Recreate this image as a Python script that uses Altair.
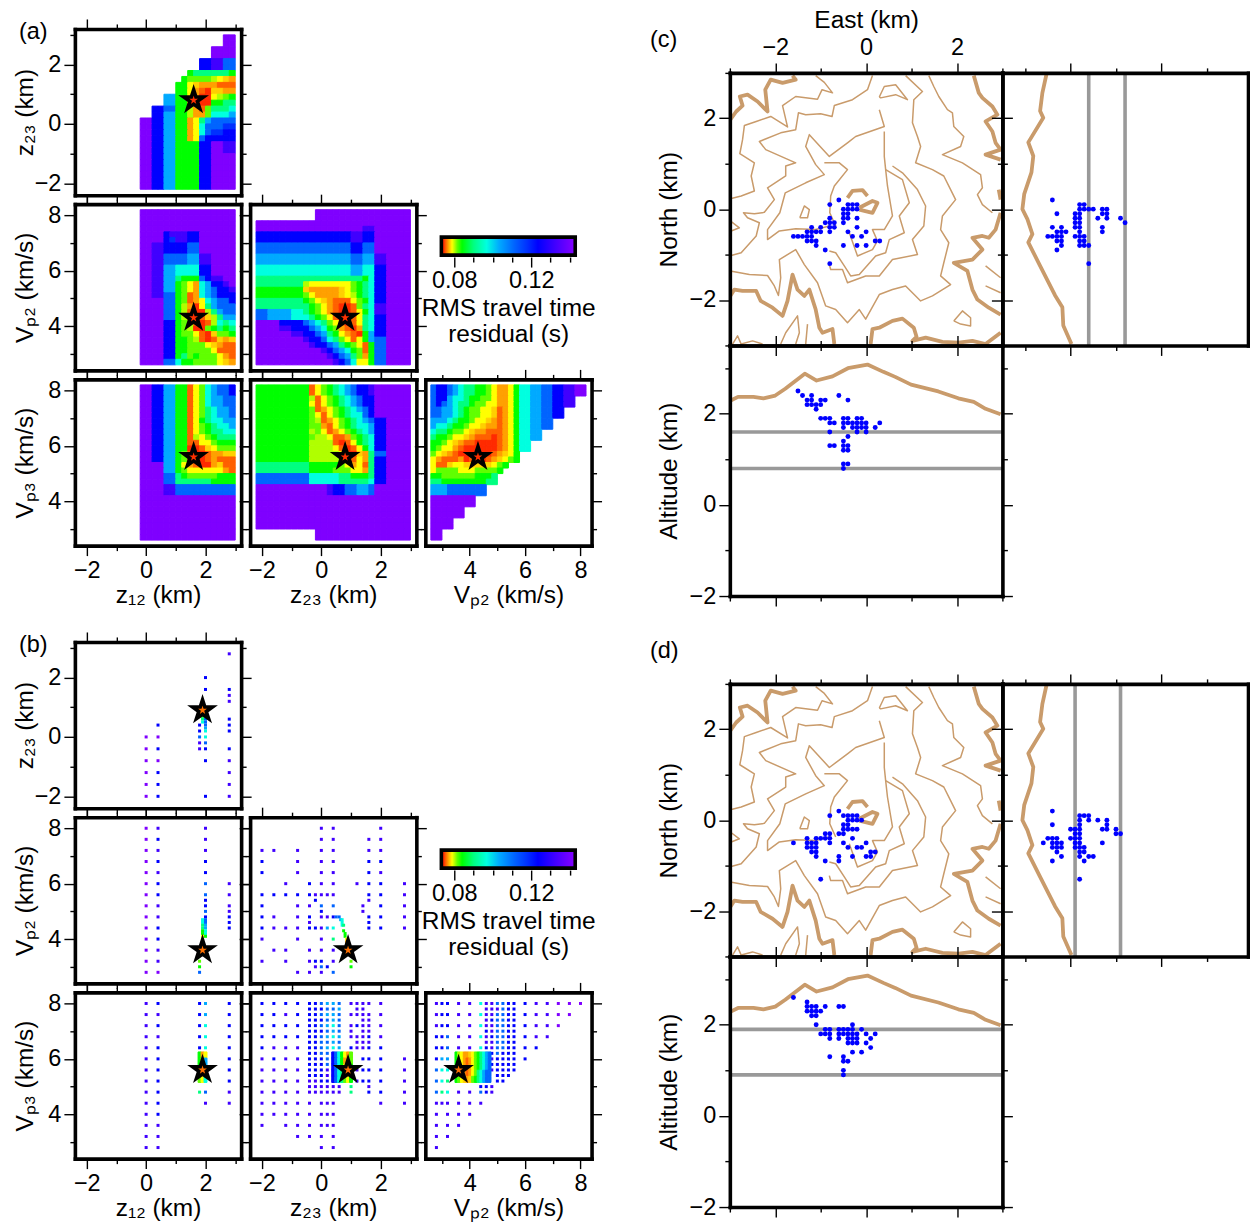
import altair as alt
import pandas as pd

FONT = "Liberation Sans"
FS = 23.5
TFS = 24.5
TAN = "#c99b6b"
GREY = "#999999"
DOT = "#0000ff"
STAR = "M0,-1 L0.2245,-0.309 L0.951,-0.309 L0.363,0.118 L0.588,0.809 L0,0.382 L-0.588,0.809 L-0.363,0.118 L-0.951,-0.309 L-0.2245,-0.309 Z"

# residual level per grid code, and its colour
LEVEL = {"r": .0745, "o": .0755, "a": .0768, "g": .0778, "y": .0788, "l": .0802, "L": .0815, "G": .0840,
         "t": .0900, "c": .0968, "s": .1033, "z": .1112, "B": .1180, "b": .1235, "v": .1323, "p": .1416}
LEVEL_COLOR = ["#ff2a00", "#ff6000", "#ffa000", "#ffd000", "#ffff00", "#b0ff00", "#60ff00", "#00ff00",
               "#00ff80", "#00ffe0", "#00aaff", "#0064ff", "#0030ff", "#0000ff", "#4000ff", "#7f00ff"]
CS = alt.Scale(domain=list(LEVEL.values()), range=LEVEL_COLOR, interpolate="rgb")

Z_DOMAIN = [-2.4, 3.2]
VP_DOMAIN = [2.4, 8.4]
Z_MAJOR, Z_MINOR = [-2, 0, 2], [-1, 1, 3]
VP_MAJOR, VP_MINOR = [4, 6, 8], [3, 5, 7]

A1 = ["..............pp", "..............pp", "............pppp", "............pppp", "..........bbvvzz",
      "..........bbvvzz", "........GttttttG", ".......GLLLLlyga", "......GGygaaaooo", "......GGyaorggaa",
      "....ssGGyarrylLG", "....ssGGyarrGGtt", "..bbzzGGlaoLtttc", "..bbssGGlaaLcccs", "ppbbssGGaytszzzz",
      "ppbbssGGayczzzBB", "ppbbssGGayczBBbb", "ppbbssGGayzbbbbb", "ppbbssGGGGbbppvv", "ppbbssGGGGbbppvv",
      "ppbbssGGGGbbpppp", "ppbbssGGGGbbpppp", "ppbbssGGGGbbpppp", "ppbbssGGGGbbpppp", "ppbbssGGGGbbpppp",
      "ppbbssGGGGbbpppp"]
A2 = ["pppppppppppppppp", "pppppppppppppppp", "pppppppppppppppp", "pppppppppppppppp", "ppppbvvvbbpppppp",
      "ppppbBvvbbpppppp", "ppvvbbbbzzpppppp", "ppvvbbbbzzpppppp", "ppvvzzzzssvvpppp", "ppvvzzzzssvvpppp",
      "ppvvssccccbbpppp", "ppvvssccccbbpppp", "ppvvsstGGGzbvvpp", "ppvvssGLyacsbbvp", "ppvvssGLyacszbbv",
      "ppvvzzGLoacszbbb", "ppppzzGLoaycszzb", "ppppzzGlarytszzz", "ppppzzGlorrltszz", "ppppzzGlorogltss",
      "ppppbbGLlorolctc", "ppppbbGLlrrLGtGt", "ppppbbGLLyorgLLG", "ppppbbGGLlorogag", "ppppbbGGLLLygaoo",
      "ppppbbGGLLLLyooo", "ppppbbGtLGLLLyao", "ppppzzcGGLLLLyga"]
A3 = ["..........pppppppppppppppp", "..........pppppppppppppppp", "pppppppppppppppppppppppppp",
      "ppppppppppppppppppvvpppppp", "bbbbbbbbbbbbbbbbvvbbpppppp", "bbbbbbbbbbbbbbbbvvbbpppppp",
      "zzzzzzzzzzzzzzzzbbzzpppppp", "zzzzzzzzzzzzzzzzbbzzpppppp", "sssssssssssssssszzssvvpppp",
      "sssssssssssssssszzssvvpppp", "ccccccccccccccccssccbbpppp", "ccccccccccccccccssccbbpppp",
      "ttttttttttttttttttGcbbpppp", "ttttttttlyyyyyyyLGtcbbpppp", "GGGGGGGGgaaaaagyLGtcbbpppp",
      "GGGGGGGGLyaaaagylGtcbbpppp", "ttttttttGLygaoooyLGcbbpppp", "tttttttttGLyaorroLtcvvpppp",
      "zzsssscctGLyaorroyGcvvpppp", "zzssssccctGLyorroytcbbpppp", "ppppbbbbzsctLyoroytcbbpppp",
      "ppppvvbbbzscGLaoratcbbpppp", "ppppppvvbbzstGyaorGsbbpppp", "ppppppppvbbzctLyoyGszzpppp",
      "pppppppppvbbzstGLyoGzzpppp", "pppppppppppvbzscGLoGzzpppp", "ppppppppppppvbzstLaGzzpppp",
      "pppppppppppppvbzcyyGzzpppp"]
A4 = ["ppbbssGGoyLcszzb", "ppbbssGGoyLcszzb", "ppbbssGGoyLcsszz", "ppbbssGGoyLcsszz", "ppbbssGGoyLtcssz",
      "ppbbssGGoyLtcssz", "ppbbssGGoyGtccss", "ppbbssGGoyLGtccs", "ppbbssGGoyLGttcc", "ppbbssGGolyLGttt",
      "ppbbssGGooyyLGGG", "ppbbssGGrrogyLLL", "ppbbssGLorroaagg", "ppbbssGLorroaooo", "ppppssGyaorragoo",
      "ppppssGLyyyyyyao", "ppppzztGLLLLLGGG", "ppppzzttttttGGGG", "ppppvvzzzzzzzzzz", "ppppvvzzzzzzzzzz",
      "pppppppppppppppp", "pppppppppppppppp", "pppppppppppppppp", "pppppppppppppppp", "pppppppppppppppp",
      "pppppppppppppppp", "pppppppppppppppp", "pppppppppppppppp"]
A5 = ["GGGGGGGGGoyLGtcszbbvpppppp", "GGGGGGGGGoyLGtcszbbvpppppp", "GGGGGGGGGloyLGtcszbbpppppp",
      "GGGGGGGGGyoyLGtcszbbpppppp", "GGGGGGGGGLoayLGtcszbpppppp", "GGGGGGGGGLyoyLGtcczbpppppp",
      "GGGGGGGGGLloayLGtcszbbpppp", "GGGGGGGGGLLaoyLGtccsbbpppp", "GGGGGGGGGlLyoayLGtcsbbpppp",
      "GGGGGGGGGLllyooaLGtcbbpppp", "GGGGGGGGGlllloroyGtcbbpppp", "GGGGGGGGGllllyoroyGcbbpppp",
      "GGGGGGGGGlllllyrrgatzzpppp", "GGGGGGGGGlllllLooyatbbpppp", "tttttttttGGGGGLyayotbbpppp",
      "tttttttttGGGGLLLyyatbbpppp", "zzzzzzzzzcccccttGGGtbbpppp", "zzzzzzzzzccccctttttcbbpppp",
      "ppppppppppppvbbzzsszpppppp", "ppppppppppppvbbzzsszpppppp", "pppppppppppppppppppppppppp",
      "pppppppppppppppppppppppppp", "pppppppppppppppppppppppppp", "pppppppppppppppppppppppppp",
      "pppppppppppppppppppppppppp", "pppppppppppppppppppppppppp", "..........pppppppppppppppp",
      "..........pppppppppppppppp"]
A6 = ["zbbzscttGGLyaayGccsszzbbvvpp", "zbbzscttGGLyaayGccsszzbbvvpp", "zbbscctGGLLyaayGccsszzbbvv",
      "zbzscttGLLyyaayGccsszzbbvv", "zzssctGLLyygoayGccsszzbb", "zzssctGLLyygoayGccsszzbb",
      "sssctGGLyygaoayGccsszz", "scctGGLyygaaoayGccsszz", "cttGLLygaaoooayGccss", "tGGLyygaoooroayGccss",
      "GGLygaoorrrroayGcc", "GLyyaorrrrrroayGcc", "LygaorrrrrroagyG", "yaoooarooroagyLG", "yoogyygggggyLG",
      "yLLLLyyyLLLLG", "GGLLLLLLGGGt", "ttGGGGGGGGtt", "ssszzzzzzz", "ssszzzzzzz", "pppppppp", "pppppppp",
      "pppppp", "pppppp", "pppp", "pppp", "pp", "pp"]

B4_HEAT = ["Gay", "Gas", "Gys", "Lyc", "Lyc"]
B5_HEAT = ["bzcGyaL", "bzcGaaL", "bzcGyaG", "bzctLyG", "bzctLyG"]
B6_HEAT = ["GlyaagyLGtcsz", "GlyaoayLGtcsz", "GlyaoayLGtcsz", "GLyaoayLtcszz", "GLygagLGtcszz"]

VP_ROWS = [8.0, 7.6, 7.2, 6.8, 6.4, 6.0, 5.6, 5.2, 4.8, 4.4, 4.0, 3.6, 3.2, 2.8]

# (x, [y values], colour codes)
B1_COLS = [(0.0, [0, -.4, -.8, -1.2, -1.6, -2], "p"),
           (0.4, [.4, 0, -.4, -.8, -1.2, -1.6, -2], "bpbpbbb"),
           (1.8, [.4, .2, 0, -.2, -.4], "bbzvv"),
           (2.0, [2, 1.6, .6, .5, .4, .3, .2, 0, -.2, -.4, -.8, -2], "bbzzzscczbbb"),
           (1.9, [.7, .6, .5], "Gtc"),
           (2.8, [2.8, 1.6, 1.4, 1.2, .6, .4, .2, -.4, -.8, -1.2, -1.6, -2], "vbvvbbbbvvvv")]
B2_COLS = [(0.0, VP_ROWS, "p"),
           (0.4, VP_ROWS, "vbvbvbbvvbbvvp"),
           (2.0, [8, 7.6, 7.2, 6.8, 6.4, 6, 5.6, 5.4, 5.2, 5, 4.8, 4.7, 4.6, 4.5, 4.4, 4.3, 4.2, 4.1],
            "vvvbbzzbbzbzzssccG"),
           (1.9, [4.7, 4.6, 4.5, 4.4, 4.3, 4.2, 4.1, 4.0], "ccttGGyy"),
           (1.8, [3.2, 3.0, 2.8], "LGz"),
           (2.8, [6, 5.6, 5.2, 5, 4.8, 4.6, 4.4], "vvvvbbb")]
B3_ROWS = [(8.0, [0, .4, 2], "v"),
           (7.6, [0, .4, 1.6, 2], "v"),
           (7.2, [-2, -1.6, -.8, 0, .4, 1.6, 2], "v"),
           (6.8, [-2, -.8, 0, .4, 1.6, 2], "bvvvbb"),
           (6.4, [-2, -.8, 0, .4, 1.6, 2], "bvvvbv"),
           (6.0, [-1.2, -.4, 0, .4, 1.2, 1.6, 2, 2.8], "vbvvvbbv"),
           (5.6, [-2, -1.6, -1.2, -.8, -.4, -.2, 0, .2, .4, 1.6, 2, 2.8], "bbbbbvvvvbbv"),
           (5.4, [-.2, 1.6], "bv"),
           (5.2, [-2, -.8, -.4, 0, .4, 1.4, 2, 2.8], "bvvzzvbv"),
           (5.0, [0, 1.4], "bv"),
           (4.8, [-2, -1.6, -.8, -.4, 0, .2, .4, .5, .6, 1.6, 2, 2.8], "bvvbvvbzzbbv"),
           (4.6, [-.4, 1.6], "vb"),
           (4.4, [-2, -1.6, -1.2, -.8, -.4, -.2, 0, .2, .4, 1.6, 2, 2.8], "bvvvbbvscbbv"),
           (4.0, [-2, -.8, 0, .4], "vvvt"),
           (3.6, [-1.6, -1.2, -.4, 0, .4], "v"),
           (3.2, [-2, -1.2, -.4, -.2, 0, .4, 1.0], "vvvbbvL"),
           (3.0, [-.2, 0, .2, 1.0], "vzbG"),
           (2.8, [-.8, -.4, 0, .4], "vvvz"),
           (4.7, [.65, .7], "sc"), (4.6, [.7], "c"), (4.5, [.7, .75], "ct"), (4.3, [.75], "G"),
           (4.2, [.8], "G"), (4.1, [.8], "G"), (4.0, [.85], "y"), (3.9, [.85], "a")]
B4_COLS = [(0.0, VP_ROWS, "v"),
           (0.4, VP_ROWS, "bvbvbbbbbbbvvv"),
           (1.8, [8, 7.6, 7.2, 6.8, 6.4, 4.8], "bbbbbt"),
           (2.0, [8, 7.6, 7.2, 6.8, 6.4, 4.8, 4.4], "ssccczv"),
           (2.8, [8, 7.6, 7.2, 6.8, 6.4, 6.0, 5.6, 5.2, 4.8, 4.4], "bbbbbbbbvv")]
B5_RIGHT = [-.4, -.2, 0, .2, .4, .6]
B5_BLOCK_Y = [8, 7.8, 7.6, 7.4, 7.2, 7, 6.8, 6.6, 6.4, 6.2, 6, 5.8, 5.6, 5.4, 5.2, 5]
B5_BLOCK_C = ["bbzssz", "bbbzzs", "bbzssz", "bbbzsz", "bbzscz", "bbbzsz", "bbzscs", "bbzzsz", "bbzscs", "bbzzsz",
              "bbbzzz", "bbbzzz", "bbbvvv", "bbbvvv", "vvbbvv", "vvvvvv"]
B5_ROWS = [(y, B5_RIGHT, c) for y, c in zip(B5_BLOCK_Y, B5_BLOCK_C)] + [
    (8.0, [-2, -1.6, -1.2, -.8, 1, 1.2, 1.4, 1.6, 2], "bbbbvvvvv"),
    (7.6, [-2, -1.6, -1.2, -.8, 1, 1.2, 1.4, 1.6, 2], "bbvbvvvvv"),
    (7.2, [-2, -1.6, -1.2, -.8, 1, 1.2, 1.4, 1.6, 2], "bbbbvbvvv"),
    (7.0, [1, 1.4, 1.6], "v"), (6.6, [1.2, 1.4, 1.6], "v"), (7.4, [1.4, 1.6], "v"), (7.8, [1.2, 1.4], "v"),
    (6.8, [-2, -1.6, -1.2, -.8, 1, 1.2, 1.4, 1.6, 2], "bbbbvvvbv"),
    (6.4, [-2, -1.6, -1.2, -.8, 1, 1.2, 1.4, 1.6, 2], "bvvvbvvbb"),
    (6.0, [-2, -1.6, -1.2, -.8, 1.4, 1.6, 2, 2.8], "vbvvbbbv"),
    (5.6, [-2, -1.6, -1.2, -.8, 1.2, 1.4, 1.6, 2, 2.8], "vvvvvbbbv"),
    (5.2, [-2, -1.6, -1.2, -.8, 1.2, 1.4, 1.6, 2, 2.8], "vvvvvbbbv"),
    (5.0, [1.0, 1.6], "tv"),
    (4.8, [-2, -1.6, -1.2, -.8, -.4, -.2, 0, .2, .4, .6, 1.0, 1.6, 2, 2.8], "vvvvvvvvvvtbbv"),
    (4.4, [-2, -1.6, -1.2, -.8, -.4, 0, .2, .4, 2, 2.8], "v"),
    (4.0, [-2, -1.6, -1.2, -.8, -.4, 0, .2, .4], "v"),
    (3.6, [-2, -1.2, -.8, -.4, 0, .2, .4], "v"),
    (3.2, [-.8, -.4, 0, .4], "v"),
    (2.8, [0, .4], "v")]
B6_LEFT = [2.8, 3.0, 3.2, 3.6, 4.0, 4.4]
B6_BLOCK = [4.6, 4.8, 5.0, 5.2, 5.4, 5.6]
B6_BLOCK_Y = [8, 7.8, 7.6, 7.4, 7.2, 7, 6.8, 6.6, 6.4, 6.2, 6, 5.8, 5.6]
B6_BLOCK_C = ["vvzzbb", "vvvzbb", "vvzzbb", "vbzzbb", "vvzzbb", "bvzzbb", "vbzzbb", "vvzzbb", "bvzzbb",
              "vbzbbb", "vvbbbb", "vbbbbb", "vvbbbb"]
B6_ROWS = [(y, B6_BLOCK, c) for y, c in zip(B6_BLOCK_Y, B6_BLOCK_C)] + [
    (8.0, B6_LEFT + [6, 6.4, 6.8, 7.2, 7.6, 8], "vbbvvcbvvppp"),
    (7.6, B6_LEFT + [6, 6.4, 6.8, 7.2, 7.6], "vbbvvcbvvpp"),
    (7.2, B6_LEFT + [6, 6.4, 6.8, 7.2], "vbbvvcbvvp"),
    (6.8, B6_LEFT + [6, 6.4, 6.8], "bbzvvcbvv"),
    (6.4, B6_LEFT + [6, 6.4], "bbzvvcbb"),
    (6.0, [2.8, 3.0, 3.2, 6.0], "bssb"),
    (5.6, [2.8, 3.0, 3.2], "zcc"),
    (5.4, [5.0, 5.2, 5.4], "b"),
    (5.2, [2.8, 3.0, 3.2, 5.0, 5.2], "zctbb"),
    (5.0, [4.4, 4.6, 4.8], "bbv"),
    (4.8, [2.8, 3.0, 3.2, 3.6, 4.0, 4.4, 4.6, 4.8], "ztcvvzbv"),
    (4.4, [2.8, 3.0, 3.2, 3.6, 4.0, 4.4], "v"),
    (4.0, [2.8, 3.2, 3.6, 4.0], "v"),
    (3.6, [2.8, 3.2, 3.6], "v"),
    (3.2, [2.8, 3.2], "v"),
    (2.8, [2.8], "v")]

# map view: East, North of located events
C_EAST = [-.8, -.6, -.4, -.3, -.2, -.5, -.4, -.3, -.2, -.5, -.4, -.5, -.4, -.5, -.2, -.8, -.9, -.8, -.7, -.8, -.7, -.8,
          -1.0, -1.0, -1.2, -.2, -.4, 0, -.1, -.3, -1.3, -1.2, -1.1, -1.6, -1.5, -1.4, -1.3, -1.2, -1.3, -1.2, -1.1, -1.1,
          -.9, -.8, -.5, -.2, 0, .2, .3]
C_NORTH = [.1, .2, .1, .1, .1, 0, 0, 0, 0, -.1, -.1, -.2, -.2, -.3, -.2, -.2, -.3, -.3, -.3, -.4, -.4, -.5,
           -.4, -.5, -.4, -.4, -.5, -.5, -.6, -.6, -.5, -.5, -.5, -.6, -.6, -.6, -.6, -.6, -.7, -.7, -.7, -.8,
           -.9, -1.2, -.8, -.8, -.8, -.7, -.7]
# north-south section: altitude, North
C2_ALT = [2.4, 2.3, 2.4, 2.2, 2.3, 2.2, 2.1, 2.5, 2.4, 2.3, 2.2, 2.3, 2.2, 2.2, 2.3,
          1.8, 1.7, 1.8, 1.7, 1.6, 1.5, 1.9, 1.8, 1.9, 1.8, 1.9, 1.8, 1.9, 1.8, 1.8, 1.9, 1.8, 1.7, 1.8, 1.7, 1.8, 1.7, 1.6, 1.6,
          1.3, 1.2, 1.3, 1.2, 1.4, 1.2, .9, .8, 1.3, 1.3]
C2_NORTH = [.2, -.1, -.4, -.4, -.5, -.5, -.5, -.6, -.6, -.6, -.6, -.7, -.7, -.8, -.9,
            .1, .1, 0, 0, 0, 0, -.1, -.1, -.2, -.2, -.3, -.3, -.4, -.4, -.5, -.6, -.6, -.6, -.7, -.7, -.8, -.8, -.8, -1.2,
            0, 0, -.1, -.1, -.2, -.2, -.2, -.3, -.4, -.5]
# east-west section: East, altitude
C3_EAST = [-1.5, -1.4, -1.2, -1.3, -1.2, -1.0, -.9, -1.3, -1.2, -1.1, -1.0, -1.1, -.6, -.4,
           -1.0, -.9, -.8, -.5, -.4, -.2, -.1, -.8, -.7, -.5, -.4, -.3, -.2, -.1, 0, .3,
           -.5, -.3, -.2, -.1, 0, .2, -.8, -.2, 0, -.4, -.5, -.8, -.7, -.5, -.4, -.5, -.4, -.5, -.4, -.5]
C3_ALT = [2.5, 2.4, 2.4, 2.3, 2.3, 2.3, 2.3, 2.2, 2.2, 2.2, 2.2, 2.1, 2.4, 2.3,
          1.9, 1.9, 1.9, 1.9, 1.9, 1.9, 1.9, 1.8, 1.8, 1.8, 1.8, 1.8, 1.8, 1.8, 1.8, 1.8,
          1.7, 1.7, 1.7, 1.7, 1.7, 1.7, 1.6, 1.6, 1.6, 1.5, 1.4, 1.3, 1.3, 1.3, 1.3, 1.2, 1.2, .9, .9, .8]

D_EAST = [-.8, -.6, -.5, -.4, -.3, -.2, -.4, -.3, -.2, -.1, -.5, -.4, -.5, -.4, -.3, -.2, -.6, -.5, -.8, -.9, -.3,
          -1.3, -1.1, -1.0, -.9, -.8, -1.6, -1.3, -1.2, -1.1, -.8, -.5, 0, -1.3, -1.2, -1.1, -.4, -.2, -.1,
          -1.2, -1.1, .1, .2, -1.1, -.6, -.3, 0, .1, -.9, -.6, -1.0]
D_NORTH = [.1, .2, .1, .1, .1, .1, 0, 0, 0, 0, -.1, -.1, -.2, -.2, -.2, -.2, -.3, -.3, -.3, -.3, -.4,
           -.4, -.4, -.4, -.4, -.4, -.5, -.5, -.5, -.5, -.5, -.5, -.5, -.6, -.6, -.6, -.6, -.6, -.6,
           -.7, -.7, -.7, -.7, -.8, -.8, -.8, -.8, -.8, -.9, -.9, -1.3]
D2_ALT = [2.4, 2.4, 2.5, 2.4, 2.3, 2.6, 2.4, 2.3, 2.2, 2.4, 2.3, 2.2, 2.3, 2.2, 2.4,
          1.8, 1.7, 1.6, 1.8, 1.6, 1.8, 2.0, 1.9, 1.8, 1.9, 1.8, 2.0, 1.9, 1.8, 1.9, 1.8, 1.9, 1.8, 1.7, 1.8, 1.7, 1.8, 1.6, 1.5, 1.7, 1.8,
          1.4, 1.2, 1.2, 1.3, 1.2, 1.0, 1.0, .9, 1.3]
D2_NORTH = [.2, -.1, -.4, -.4, -.4, -.5, -.5, -.5, -.5, -.6, -.6, -.6, -.7, -.8, -.9,
            .1, .1, .1, 0, 0, -.1, -.2, -.2, -.2, -.3, -.3, -.4, -.4, -.4, -.5, -.5, -.6, -.6, -.6, -.7, -.7, -.8, -.8, -.8, -.9, -1.3,
            0, 0, -.1, -.2, -.2, -.2, -.3, -.3, -.5]
D3_EAST = [-1.6, -1.3, -1.3, -1.2, -1.1, -.9, -.6, -.5, -1.3, -1.2, -1.1, -1.0, -1.2, -1.1, -1.1, -.3,
           -.9, -.8, -.6, -.5, -.4, -.3, -.1, -1.0, -.9, -.8, -.6, -.5, -.4, -.3, -.2, 0, .2,
           -.8, -.6, -.4, -.3, -.2, .1, -.4, -.3, -.2, 0, .1, -.3, -.1, -.8, -.5, -.5, -.4, -.5, -.5]
D3_ALT = [2.6, 2.5, 2.4, 2.4, 2.4, 2.4, 2.4, 2.4, 2.3, 2.3, 2.3, 2.3, 2.2, 2.2, 2.0, 2.0,
          1.9, 1.9, 1.9, 1.9, 1.9, 1.9, 1.9, 1.8, 1.8, 1.8, 1.8, 1.8, 1.8, 1.8, 1.8, 1.8, 1.8,
          1.7, 1.7, 1.7, 1.7, 1.7, 1.7, 1.6, 1.6, 1.6, 1.6, 1.5, 1.4, 1.4, 1.3, 1.3, 1.2, 1.2, 1.0, .9]

TOPO_NS_ALT = [2.53, 2.62, 2.67, 2.60, 2.93, 2.82, 2.86, 3.02, 3.06, 2.95, 2.84, 2.93, 2.67, 2.34, 2.18, 2.16, 1.98]
TOPO_NS_NORTH = [2.97, 2.56, 2.16, 2.01, 1.47, 1.17, .81, .33, 0, -.22, -.55, -.73, -1.25, -1.9, -2.16, -2.56, -2.97]
TOPO_EW_EAST = [-2.98, -2.82, -2.48, -2.26, -2, -1.78, -1.35, -1.09, -.74, -.40, .03, .38, .64, .99, 1.59, 2.03, 2.37, 2.63, 2.96]
TOPO_EW_ALT = [2.29, 2.37, 2.37, 2.34, 2.40, 2.55, 2.88, 2.73, 2.82, 3.0, 3.08, 2.92, 2.81, 2.64, 2.49, 2.34, 2.26, 2.11, 1.99]

THICK = [
    [(-2.99, 1.97), (-2.86, 2.15), (-2.72, 2.28), (-2.78, 2.48), (-2.61, 2.52), (-2.39, 2.37), (-2.17, 2.15), (-2.22, 2.63),
     (-2.10, 2.85), (-1.84, 2.78), (-1.55, 2.85), (-1.62, 2.94)],
    [(-2.99, -1.91), (-2.90, -1.77), (-2.72, -1.80), (-2.42, -1.80), (-2.32, -2.02), (-2.06, -2.17), (-1.84, -2.35),
     (-1.73, -2.02), (-1.62, -1.44), (-1.51, -1.77), (-1.36, -1.91), (-1.25, -1.77), (-1.11, -2.21), (-1.03, -2.61),
     (-.96, -2.72), (-.74, -2.64), (-.70, -2.97)],
    [(.10, -2.97), (.14, -2.64), (.29, -2.61), (.58, -2.46), (.80, -2.41), (1.05, -2.61), (1.11, -2.81), (1.02, -2.90),
     (1.31, -2.83), (1.68, -2.92), (2.04, -2.94), (2.34, -2.90), (2.63, -2.97), (2.96, -2.72)],
    [(2.37, 2.94), (2.48, 2.56), (2.56, 2.45), (2.78, 2.26), (2.89, 2.08), (2.63, 1.93), (2.78, 1.71), (2.85, 1.46),
     (2.96, 1.31), (2.63, 1.20), (2.96, 1.09)],
    [(2.92, .43), (2.96, .21)],
    [(2.96, -.08), (2.85, -.45), (2.70, -.63), (2.56, -.59), (2.34, -.63), (2.56, -.89), (2.34, -1.11), (1.93, -1.18),
     (2.23, -1.36), (2.34, -1.77), (2.45, -1.99), (2.70, -2.17), (2.96, -2.32)],
    [(-.41, .25), (-.30, .40), (-.08, .42), (.03, .29)],
    [(-.15, .03), (.14, .18), (.25, .14), (.14, -.08), (-.15, -.01)],
]
THIN = [
    [(-1.11, 2.94), (-.92, 2.79), (-.74, 2.56), (-.97, 2.63), (-1.07, 2.42), (-1.55, 2.48), (-1.84, 2.28), (-1.73, 1.81),
     (-2.10, 2.04), (-2.42, 1.93), (-2.68, 1.84), (-2.72, 1.53), (-2.78, 1.22), (-2.46, 1.02), (-2.53, .73), (-2.46, .40),
     (-2.75, .29), (-2.99, .23)],
    [(.14, 2.94), (.03, 2.63), (-.30, 2.41), (-.70, 2.28), (-.75, 2.04), (-1.00, 2.10), (-1.33, 2.08), (-1.49, 2.12),
     (-1.55, 1.75), (-1.88, 1.68), (-2.35, 1.49), (-2.21, 1.31), (-1.55, 1.02), (-1.77, .95), (-1.77, .73), (-2.17, .47),
     (-2.02, .21), (-2.24, -.07), (-2.46, -.10), (-2.70, -.08), (-2.61, -.19), (-2.35, -.30), (-2.42, -.59), (-2.75, -.96),
     (-2.97, -1.02)],
    [(-2.99, -.26), (-2.79, -.41), (-2.97, -.48)],
    [(.29, 2.19), (.40, 1.82), (-.23, 1.60), (-.41, 1.46), (-.81, 1.16), (-1.25, 1.64), (-1.33, 1.38), (-1.11, .98),
     (-.92, .76), (-1.33, .58), (-1.78, .36), (-1.90, -.08), (-2.17, -.45), (-2.17, -.67), (-1.91, -.48), (-1.55, -.43),
     (-1.11, -.45), (-.81, -.37)],
    [(.40, 1.71), (.40, 1.16), (.43, .87), (.80, .65), (.95, .14), (.73, -.15), (.84, -.52), (.51, -.67), (.43, -.96),
     (.21, -1.03), (-.15, -1.44), (-.34, -1.47), (-.48, -1.25), (-.67, -.96), (-.81, -.92)],
    [(-2.99, -1.36), (-2.57, -1.44), (-2.17, -1.46), (-2.02, -1.69), (-1.93, -1.90), (-1.88, -1.51), (-1.91, -1.11),
     (-1.55, -.89), (-1.36, -1.22), (-1.07, -1.62), (-.89, -2.13), (-.67, -2.21), (-.41, -2.50), (-.15, -2.21), (-.01, -2.42),
     (.29, -1.88), (.58, -1.77), (.87, -1.69), (1.20, -2.02), (1.46, -1.91), (1.86, -1.66), (1.64, -1.47), (1.71, -1.18),
     (1.82, -.74), (1.64, -.45), (1.68, -.15), (1.97, .21), (1.86, .43), (1.71, .73), (1.46, .87), (1.09, 1.02), (1.20, 1.38),
     (1.13, 1.60), (1.02, 1.90), (1.05, 2.41), (1.24, 2.59), (.87, 2.94)],
    [(-.81, -1.22), (-.78, -1.33), (-.52, -1.33), (-.41, -1.62), (-.01, -1.47), (.29, -1.47), (.58, -1.11), (1.13, -1.00),
     (1.02, -.67), (1.27, -.37), (1.31, .07), (1.13, .43), (.80, .80), (.58, .95)],
    [(1.38, 2.94), (1.49, 2.70), (1.60, 2.48), (1.79, 2.19), (1.90, 2.12), (1.93, 1.82), (2.15, 1.60), (2.08, 1.38),
     (1.68, 1.20), (2.12, 1.02), (2.52, .76), (2.56, .47), (2.45, .32), (2.56, .10), (2.78, -.08)],
    [(2.63, -1.25), (2.96, -1.51)],
    [(2.63, -1.69), (2.96, -1.84)],
    [(-1.88, -2.97), (-1.77, -2.72), (-1.51, -2.35), (-1.47, -2.72), (-1.55, -2.97)],
    [(-1.29, -2.53), (-1.33, -2.97)],
    [(-2.94, -2.97), (-2.83, -2.79), (-2.75, -2.97), (-2.50, -2.90), (-2.28, -2.97)],
    [(-.92, 1.02), (-.59, 1.02), (-.41, .87), (-.70, .51), (-.78, .29), (-.80, -.08), (-.67, -.37)],
    [(-.37, -.52), (-.19, -1.03), (.14, -.89), (.25, -.70), (.14, -.45), (.40, -.45), (.58, -.15), (.47, .51), (.43, .87)],
    [(.29, 2.47), (.40, 2.70), (.65, 2.74), (.91, 2.41), (.65, 2.52), (.32, 2.45), (.29, 2.47)],
    [(-1.46, -.19), (-1.36, .07), (-1.25, -.01), (-1.29, -.19), (-1.46, -.19)],
    [(1.93, -2.46), (2.12, -2.24), (2.30, -2.39), (2.30, -2.57), (2.08, -2.53), (1.93, -2.46)],
]

PANEL = 166.5
GAP = 8.5
MAP_W = 273
SEC_W = 246
SEC_H = 251


def grid_df(rows, x0, dx, ytop, dy):
    recs = []
    for j, row in enumerate(rows):
        for i, ch in enumerate(row):
            if ch != ".":
                recs.append({"x": x0 + i * dx, "x2": x0 + (i + 1) * dx,
                             "y": ytop - (j + 1) * dy, "y2": ytop - j * dy, "v": LEVEL[ch]})
    return pd.DataFrame(recs)


def col_df(cols):
    recs = []
    for x, ys, codes in cols:
        codes = codes * len(ys) if len(codes) == 1 else codes
        recs += [{"x": x, "y": y, "v": LEVEL[c]} for y, c in zip(ys, codes)]
    return pd.DataFrame(recs)


def row_df(rows):
    recs = []
    for y, xs, codes in rows:
        codes = codes * len(xs) if len(codes) == 1 else codes
        recs += [{"x": x, "y": y, "v": LEVEL[c]} for x, c in zip(xs, codes)]
    return pd.DataFrame(recs)


def line_df(lines):
    return pd.DataFrame([{"x": p[0], "y": p[1], "id": k, "o": n}
                         for k, ln in enumerate(lines) for n, p in enumerate(ln)])


def axis(orient, values, size, labels=False, domain=False, title=None, **kw):
    return alt.Axis(orient=orient, values=values, tickSize=size, tickWidth=1.4, tickColor="black",
                    labels=labels, labelFont=FONT, labelFontSize=FS, labelColor="black", labelPadding=3,
                    labelOverlap=False, labelFlush=False, domain=domain, domainColor="black", domainWidth=3.6,
                    domainCap="square", grid=False, title=title, titleFont=FONT, titleFontSize=TFS,
                    titleColor="black", titleFontWeight="normal", zindex=1, **kw)


def panel(xdom, ydom, xt, yt, marks, w=PANEL, h=PANEL, xlabels=False, ylabels=False, xtitle=None, ytitle=None,
          top=None, ytitle_x=-49, xtitle_y=50, right_ticks=True):
    sx = alt.Scale(domain=xdom, nice=False, zero=False)
    sy = alt.Scale(domain=ydom, nice=False, zero=False)
    one = pd.DataFrame({"x": [xdom[0]], "y": [ydom[0]]})

    def axes(ax, ay):
        return alt.Chart(one).mark_point(opacity=0).encode(
            x=alt.X("x:Q", scale=sx, axis=ax), y=alt.Y("y:Q", scale=sy, axis=ay))

    xkw = dict(titleY=xtitle_y, titleBaseline="middle") if xtitle else {}
    ykw = dict(titleX=ytitle_x, titleBaseline="middle") if ytitle else {}
    tkw = dict(titleY=-52, titleBaseline="middle") if top else {}
    rsize = 10 if right_ticks else 0.01
    rmin = 5 if right_ticks else 0.01
    layers = [
        axes(axis("bottom", xt[0], 10, xlabels, True, xtitle, **xkw), axis("left", yt[0], 11, ylabels, True, ytitle, **ykw)),
        axes(axis("top", xt[0], 10, bool(top), True, top, **tkw), axis("right", yt[0], rsize, False, True)),
        axes(axis("bottom", xt[1], 5), axis("left", yt[1], 5)),
        axes(axis("top", xt[1], 5), axis("right", yt[1], rmin)),
    ]
    for fn in marks:
        layers.append(fn(sx, sy))
    return alt.layer(*layers).resolve_axis(x="independent", y="independent").properties(width=w, height=h)


def heat(df):
    def f(sx, sy):
        return alt.Chart(df).mark_rect(strokeWidth=1).encode(
            x=alt.X("x:Q", scale=sx, axis=None), x2="x2:Q",
            y=alt.Y("y:Q", scale=sy, axis=None), y2="y2:Q",
            color=alt.Color("v:Q", scale=CS, legend=None),
            stroke=alt.Stroke("v:Q", scale=CS, legend=None))
    return f


def squares(df):
    def f(sx, sy):
        return alt.Chart(df).mark_square(size=9, opacity=1).encode(
            x=alt.X("x:Q", scale=sx, axis=None), y=alt.Y("y:Q", scale=sy, axis=None),
            color=alt.Color("v:Q", scale=CS, legend=None))
    return f


def star(x, y, fill):
    df = pd.DataFrame({"x": [x], "y": [y]})

    def f(sx, sy):
        return alt.Chart(df).mark_point(shape=STAR, size=430, filled=True, fill=fill, stroke="black",
                                        strokeWidth=3.6, opacity=1, strokeOpacity=1, fillOpacity=1,
                                        strokeJoin="miter").encode(
            x=alt.X("x:Q", scale=sx, axis=None), y=alt.Y("y:Q", scale=sy, axis=None))
    return f


def tag(text, px, py):
    df = pd.DataFrame({"t": [text]})

    def f(sx, sy):
        return alt.Chart(df).mark_text(font=FONT, fontSize=FS, align="left", baseline="middle", color="black").encode(
            text="t:N", x=alt.value(px), y=alt.value(py))
    return f


def lines(df, width, color=TAN):
    def f(sx, sy):
        return alt.Chart(df).mark_line(strokeWidth=width, color=color, strokeJoin="round", clip=True).encode(
            x=alt.X("x:Q", scale=sx, axis=None), y=alt.Y("y:Q", scale=sy, axis=None),
            detail="id:N", order="o:Q")
    return f


def dots(xs, ys):
    df = pd.DataFrame({"x": xs, "y": ys})

    def f(sx, sy):
        return alt.Chart(df).mark_circle(size=24, color=DOT, opacity=1).encode(
            x=alt.X("x:Q", scale=sx, axis=None), y=alt.Y("y:Q", scale=sy, axis=None))
    return f


def hrule(vals):
    df = pd.DataFrame({"y": vals})

    def f(sx, sy):
        return alt.Chart(df).mark_rule(color=GREY, strokeWidth=3.6).encode(
            y=alt.Y("y:Q", scale=sy, axis=None))
    return f


def vrule(vals):
    df = pd.DataFrame({"x": vals})

    def f(sx, sy):
        return alt.Chart(df).mark_rule(color=GREY, strokeWidth=3.6).encode(
            x=alt.X("x:Q", scale=sx, axis=None))
    return f


def blank(w, h):
    return alt.Chart(pd.DataFrame({"a": [0]})).mark_point(opacity=0).properties(width=w, height=h)


def colorbar():
    lo, hi = .07325, .1429
    stops = [alt.GradientStop(offset=max(0, min(1, (v - lo) / (hi - lo))), color=c)
             for v, c in zip(LEVEL.values(), LEVEL_COLOR)]
    sx = alt.Scale(domain=[.0649, .1514], nice=False, zero=False)
    sy = alt.Scale(domain=[PANEL, 0], nice=False, zero=False)
    df = pd.DataFrame({"a": [lo], "b": [hi], "c": [51], "d": [33]})
    bar = alt.Chart(df).mark_rect(
        fill=alt.Gradient(gradient="linear", stops=stops, x1=0, x2=1, y1=0, y2=0),
        stroke="black", strokeWidth=3.6, opacity=1)
    major = bar.encode(
        x=alt.X("a:Q", scale=sx, axis=alt.Axis(
            orient="bottom", values=[.08, .12], format=".2f", tickSize=10, tickWidth=1.4, tickColor="black", domain=False,
            offset=-113.5, labelFont=FONT, labelFontSize=FS, labelColor="black", labelPadding=1, grid=False,
            labelFlush=False, labelOverlap=False,
            title=["RMS travel time", "residual (s)"], titleFont=FONT, titleFontSize=TFS, titleFontWeight="normal",
            titleColor="black", titleLineHeight=26, titleX=83, titleY=52, titleBaseline="middle", titleAlign="center")),
        x2="b:Q", y=alt.Y("c:Q", scale=sy, axis=None), y2="d:Q")
    minor = alt.Chart(df).mark_point(opacity=0).encode(
        x=alt.X("a:Q", scale=sx, axis=alt.Axis(
            orient="bottom", values=[.09, .10, .11, .13, .14], tickSize=5, tickWidth=1.4, tickColor="black", domain=False,
            offset=-113.5, labels=False, title=None, grid=False)),
        y=alt.Y("c:Q", scale=sy, axis=None))
    return (alt.layer(minor, major).resolve_axis(x="independent")
            .properties(width=PANEL, height=PANEL, view=alt.ViewBackground(stroke="transparent")))


Z_T = (Z_MAJOR, Z_MINOR)
V_T = (VP_MAJOR, VP_MINOR)
Z12 = "z₁₂ (km)"
Z23 = "z₂₃ (km)"
VP2 = "Vₚ₂ (km/s)"
VP3 = "Vₚ₃ (km/s)"
STAR_A = "#ff3000"
STAR_B = "#ff7000"


def block(name, m, stars):
    z12, z23, v2, v3 = stars
    f = STAR_A if name == "(a)" else STAR_B
    return [
        panel(Z_DOMAIN, Z_DOMAIN, Z_T, Z_T, m[0] + [star(z12, z23, f), tag(name, -56, 3)], ylabels=True, ytitle=Z23),
        blank(PANEL, PANEL), blank(PANEL, PANEL),
        panel(Z_DOMAIN, VP_DOMAIN, Z_T, V_T, m[1] + [star(z12, v2, f)], ylabels=True, ytitle=VP2),
        panel(Z_DOMAIN, VP_DOMAIN, Z_T, V_T, m[2] + [star(z23, v2, f)]),
        colorbar(),
        panel(Z_DOMAIN, VP_DOMAIN, Z_T, V_T, m[3] + [star(z12, v3, f)], xlabels=True, ylabels=True, xtitle=Z12, ytitle=VP3),
        panel(Z_DOMAIN, VP_DOMAIN, Z_T, V_T, m[4] + [star(z23, v3, f)], xlabels=True, xtitle=Z23),
        panel(VP_DOMAIN, VP_DOMAIN, V_T, V_T, m[5] + [star(v2, v3, f)], xlabels=True, xtitle=VP2),
    ]


marks_a = [[heat(grid_df(A1, -.2, .2, 3.0, .2))],
           [heat(grid_df(A2, -.2, .2, 8.2, .2))],
           [heat(grid_df(A3, -2.2, .2, 8.2, .2))],
           [heat(grid_df(A4, -.2, .2, 8.2, .2))],
           [heat(grid_df(A5, -2.2, .2, 8.2, .2))],
           [heat(grid_df(A6, 2.6, .2, 8.2, .2))]]
marks_b = [[squares(col_df(B1_COLS))],
           [squares(col_df(B2_COLS))],
           [squares(row_df(B3_ROWS))],
           [squares(col_df(B4_COLS)), heat(grid_df(B4_HEAT, 1.75, .1, 6.25, .22))],
           [squares(row_df(B5_ROWS)), heat(grid_df(B5_HEAT, .35, .1, 6.25, .22))],
           [squares(row_df(B6_ROWS)), heat(grid_df(B6_HEAT, 3.47, .1, 6.25, .22))]]

left_cells = (block("(a)", marks_a, (1.6, .8, 4.3, 5.6))
              + [blank(PANEL, 78.5), blank(PANEL, 78.5), blank(PANEL, 78.5)]
              + block("(b)", marks_b, (1.9, .9, 3.6, 5.6)))
left = alt.concat(*left_cells, columns=3, spacing=GAP, bounds="flush")

thin_df = line_df(THIN)
thick_df = line_df(THICK)
MAP_X = [-3, 3]
MAP_Y = [-3, 3]
ALT_Y = [-2, 3.5]
ALT_X = [3.5, -1.906]
KM_T = ([-2, 0, 2], [-3, -1, 1, 3])
NS_T = ([0, 2], [-1, 1, 3])
ALT_T = ([-2, 0, 2], [-1, 1, 3])


def group(name, top, east, north, alt2, north2, east3, alt3, rules):
    ns = pd.DataFrame({"x": TOPO_NS_ALT, "y": TOPO_NS_NORTH, "id": 0, "o": range(len(TOPO_NS_ALT))})
    ew = pd.DataFrame({"x": TOPO_EW_EAST, "y": TOPO_EW_ALT, "id": 0, "o": range(len(TOPO_EW_EAST))})
    return [
        panel(MAP_X, MAP_Y, KM_T, KM_T,
              [lines(thin_df, 1.5), lines(thick_df, 3.8), dots(east, north), tag(name, -80, -33)],
              w=MAP_W, h=MAP_W, ylabels=True, ytitle="North (km)", ytitle_x=-60, top=top),
        panel(ALT_X, MAP_Y, NS_T, KM_T, [vrule(rules), lines(ns, 3.8), dots(alt2, north2)],
              w=SEC_W, h=MAP_W, right_ticks=False),
        panel(MAP_X, ALT_Y, KM_T, ALT_T, [hrule(rules), lines(ew, 3.8), dots(east3, alt3)],
              w=MAP_W, h=SEC_H, ylabels=True, ytitle="Altitude (km)", ytitle_x=-60),
        blank(SEC_W, SEC_H),
    ]


right_cells = ([blank(MAP_W, 44), blank(SEC_W, 44)]
               + group("(c)", "East (km)", C_EAST, C_NORTH, C2_ALT, C2_NORTH, C3_EAST, C3_ALT, [1.6, .8])
               + [blank(MAP_W, 88), blank(SEC_W, 88)]
               + group("(d)", None, D_EAST, D_NORTH, D2_ALT, D2_NORTH, D3_EAST, D3_ALT, [1.9, .9]))
right = alt.concat(*right_cells, columns=2, spacing=0, bounds="flush")

chart = (alt.concat(left, right, columns=2, spacing=656, bounds="flush")
         .properties(padding={"left": 4, "top": -2, "right": 0, "bottom": 0})
         .configure_view(stroke="transparent")
         .configure(font=FONT))
chart.save("out.html", embed_options={"renderer": "svg", "actions": False})
